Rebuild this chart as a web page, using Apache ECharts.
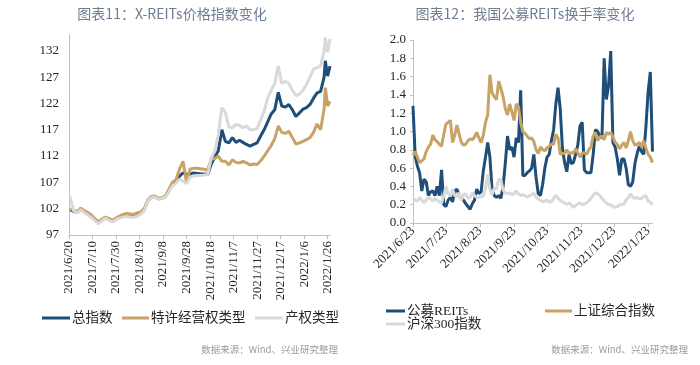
<!DOCTYPE html>
<html><head><meta charset="utf-8">
<script src="https://cdn.jsdelivr.net/npm/echarts@6/dist/echarts.min.js"></script>
<style>html,body{margin:0;padding:0;background:#fff}#c{width:700px;height:365px}</style>
</head><body><div id="c"></div>
<script>
// ---- Chart 11: X-REITs price index ----
const priceBase = '2021/6/20';
const priceTickLabels = ['2021/6/20','2021/7/10','2021/7/30','2021/8/19','2021/9/8','2021/9/28','2021/10/18','2021/11/7','2021/11/27','2021/12/17','2022/1/6','2022/1/26'];
const priceYTicks = [97,102,107,112,117,122,127,132];
const priceDates = ['2021-06-21','2021-06-24','2021-06-27','2021-06-30','2021-07-03','2021-07-06','2021-07-09','2021-07-12','2021-07-15','2021-07-18','2021-07-21','2021-07-24','2021-07-27','2021-07-30','2021-08-02','2021-08-05','2021-08-08','2021-08-11','2021-08-14','2021-08-17','2021-08-20','2021-08-23','2021-08-26','2021-08-29','2021-09-01','2021-09-04','2021-09-07','2021-09-10','2021-09-13','2021-09-16','2021-09-19','2021-09-22','2021-09-25','2021-09-28','2021-10-01','2021-10-04','2021-10-07','2021-10-10','2021-10-13','2021-10-16','2021-10-19','2021-10-22','2021-10-25','2021-10-28','2021-10-31','2021-11-03','2021-11-06','2021-11-09','2021-11-12','2021-11-15','2021-11-18','2021-11-21','2021-11-24','2021-11-27','2021-11-30','2021-12-03','2021-12-06','2021-12-09','2021-12-12','2021-12-15','2021-12-18','2021-12-21','2021-12-24','2021-12-27','2021-12-30','2022-01-02','2022-01-05','2022-01-08','2022-01-11','2022-01-14','2022-01-17','2022-01-20','2022-01-23','2022-01-24','2022-01-26','2022-01-28'];
const totalIndex = [101.8,101.5,101.3,101.9,101.4,101.0,100.5,99.9,99.3,99.9,
100.3,100.0,99.7,100.1,100.4,100.6,100.7,100.6,100.5,100.8,
101.1,101.8,103.5,104.2,104.3,103.9,104.0,104.3,105.5,106.6,
107.0,108.2,108.8,108.5,108.6,108.8,108.7,108.6,108.6,108.5,
110.5,111.8,113.0,117.0,114.8,114.5,115.5,114.6,115.0,114.6,
114.2,113.9,114.2,114.5,115.8,117.0,118.5,120.0,120.8,124.1,
121.5,121.3,121.8,120.8,119.5,120.2,120.9,121.2,121.8,123.0,
124.0,124.3,127.0,130.1,127.2,129.1];
const concessionIndex = [102.0,101.7,101.5,102.1,101.6,101.3,100.8,100.1,99.5,100.0,
100.4,100.1,99.8,100.2,100.6,100.9,101.1,101.0,100.9,101.2,
101.4,102.0,103.6,104.3,104.4,104.0,104.1,104.4,105.7,107.0,
107.5,109.5,111.0,107.0,109.5,109.7,109.7,109.6,109.5,109.3,
111.5,111.5,112.0,111.0,111.0,110.3,111.3,110.8,110.7,111.0,
110.7,110.3,110.5,110.4,111.1,112.0,113.0,114.0,115.3,117.7,
116.5,116.3,116.7,115.5,114.3,114.5,114.8,115.1,115.5,116.5,
118.1,117.0,121.0,125.0,121.5,122.4];
const propertyIndex = [104.3,101.6,101.2,101.8,101.2,100.8,100.3,99.7,99.1,99.7,
100.2,99.8,99.5,99.9,100.2,100.4,100.5,100.4,100.3,100.6,
100.9,101.6,103.4,104.1,104.2,103.8,103.9,104.2,105.2,106.3,
106.8,107.6,107.2,106.8,108.0,108.2,108.3,108.3,108.4,108.5,
111.6,113.0,116.0,121.2,120.3,117.5,117.4,118.0,117.8,117.4,
117.7,117.0,117.0,117.2,118.9,120.5,123.0,124.5,125.8,129.1,
125.8,126.2,125.8,124.5,123.5,123.8,124.5,125.6,127.0,128.5,
128.8,129.1,132.0,134.5,131.7,134.3];

// ---- Chart 12: REITs turnover ----
const turnBase = '2021/6/23';
const turnTickLabels = ['2021/6/23','2021/7/23','2021/8/23','2021/9/23','2021/10/23','2021/11/23','2021/12/23','2022/1/23'];
const turnDates = ['2021-06-23','2021-06-25','2021-06-27','2021-06-29','2021-07-01','2021-07-03','2021-07-05','2021-07-07','2021-07-09','2021-07-11',
'2021-07-13','2021-07-15','2021-07-17','2021-07-19','2021-07-21','2021-07-23','2021-07-25','2021-07-27','2021-07-29','2021-07-31',
'2021-08-02','2021-08-04','2021-08-06','2021-08-08','2021-08-10','2021-08-12','2021-08-14','2021-08-16','2021-08-18','2021-08-20',
'2021-08-22','2021-08-24','2021-08-26','2021-08-28','2021-08-30','2021-09-01','2021-09-03','2021-09-05','2021-09-07','2021-09-09',
'2021-09-11','2021-09-13','2021-09-15','2021-09-17','2021-09-19','2021-09-21','2021-09-23','2021-09-25','2021-09-27','2021-09-29',
'2021-10-01','2021-10-03','2021-10-05','2021-10-07','2021-10-09','2021-10-11','2021-10-13','2021-10-15','2021-10-17','2021-10-19',
'2021-10-21','2021-10-23','2021-10-25','2021-10-27','2021-10-29','2021-10-31','2021-11-02','2021-11-04','2021-11-06','2021-11-08',
'2021-11-10','2021-11-12','2021-11-14','2021-11-16','2021-11-18','2021-11-20','2021-11-22','2021-11-24','2021-11-26','2021-11-28',
'2021-11-30','2021-12-02','2021-12-04','2021-12-06','2021-12-08','2021-12-10','2021-12-12','2021-12-14','2021-12-16','2021-12-18',
'2021-12-20','2021-12-22','2021-12-24','2021-12-26','2021-12-28','2021-12-30','2022-01-01','2022-01-03','2022-01-05','2022-01-07',
'2022-01-09','2022-01-11','2022-01-13','2022-01-15','2022-01-17','2022-01-19','2022-01-21','2022-01-23','2022-01-25','2022-01-27'];
const reitsTurnover = [1.28,0.73,0.62,0.55,0.35,0.48,0.45,0.30,0.34,0.35,
0.30,0.40,0.30,0.58,0.20,0.18,0.25,0.28,0.23,0.35,
0.37,0.30,0.27,0.25,0.21,0.18,0.15,0.21,0.25,0.37,
0.32,0.34,0.57,0.72,0.88,0.72,0.36,0.30,0.28,0.30,
0.27,0.40,0.65,0.95,0.80,0.83,0.72,0.93,0.88,1.45,
0.52,0.52,0.55,0.57,0.60,0.75,0.50,0.32,0.30,0.42,
0.60,0.72,0.75,0.90,1.02,1.30,1.48,1.25,0.82,0.66,
0.56,0.75,0.65,0.66,0.75,0.85,1.06,1.10,0.58,0.55,
0.55,0.55,0.75,1.02,1.00,0.95,0.93,1.80,1.35,1.50,
1.88,0.88,0.83,0.70,0.52,0.70,0.70,0.60,0.42,0.40,
0.45,0.65,0.76,0.84,0.78,0.75,1.05,1.43,1.65,0.78];
const shTurnover = [0.74,0.78,0.72,0.66,0.68,0.70,0.78,0.83,0.86,0.96,
0.91,0.89,0.86,0.84,0.97,1.08,1.10,1.12,0.88,0.96,
1.07,0.97,0.88,0.85,0.86,0.90,0.92,0.91,0.94,0.99,
0.93,0.88,0.96,1.10,1.18,1.62,1.42,1.38,1.35,1.55,
1.47,1.38,1.25,1.18,1.30,1.22,1.12,1.30,1.27,1.10,
1.00,0.98,0.95,0.92,0.93,0.89,0.80,0.76,0.83,0.80,
0.79,0.82,0.84,0.86,0.86,0.97,0.93,0.75,0.76,0.76,
0.80,0.76,0.77,0.76,0.81,0.77,0.72,0.76,0.77,0.75,
0.80,0.83,0.95,0.99,0.90,0.94,0.95,0.91,0.99,0.97,
0.99,0.94,0.88,0.86,0.81,0.85,0.88,0.82,0.90,1.00,
0.90,0.85,0.86,0.88,0.83,0.90,0.82,0.75,0.72,0.66];
const hs300Turnover = [0.27,0.25,0.24,0.28,0.25,0.22,0.25,0.28,0.26,0.24,
0.27,0.25,0.23,0.22,0.30,0.40,0.32,0.30,0.37,0.30,
0.29,0.33,0.25,0.31,0.32,0.27,0.28,0.33,0.30,0.28,
0.28,0.29,0.29,0.38,0.53,0.37,0.31,0.38,0.37,0.48,
0.47,0.36,0.33,0.32,0.33,0.31,0.32,0.35,0.32,0.30,
0.31,0.30,0.28,0.30,0.31,0.33,0.28,0.26,0.25,0.23,
0.24,0.25,0.23,0.23,0.27,0.30,0.27,0.25,0.23,0.22,
0.20,0.22,0.20,0.17,0.19,0.21,0.22,0.20,0.21,0.22,
0.24,0.27,0.30,0.33,0.32,0.30,0.27,0.24,0.22,0.20,
0.20,0.18,0.17,0.18,0.20,0.20,0.21,0.25,0.28,0.32,
0.28,0.27,0.28,0.26,0.27,0.29,0.30,0.24,0.23,0.20];

// ---- helpers ----
function utc(s){const p=s.split(/[-\/]/).map(Number);return Date.UTC(p[0],p[1]-1,p[2]);}
function dayOf(s,base){return Math.round((utc(s)-utc(base))/864e5);}
function fmt(v,base){const d=new Date(utc(base)+v*864e5);return d.getUTCFullYear()+'/'+(d.getUTCMonth()+1)+'/'+d.getUTCDate();}
function pairs(dates,vals,base){return dates.map((d,i)=>[dayOf(d,base),vals[i]]);}

const priceTickVals = priceTickLabels.map(s=>dayOf(s,priceBase));
const turnTickVals = turnTickLabels.map(s=>dayOf(s,turnBase));
const priceMax = dayOf(priceDates[priceDates.length-1],priceBase);
const turnMax = dayOf(turnDates[turnDates.length-1],turnBase);

const BLUE='#1f4e79', GOLD='#c9a265', GRAY='#d9d9d9';
const SERIF="'Liberation Serif','Noto Sans CJK SC',serif";
const axisGray='#bfbfbf';
const lblStyle={fontFamily:SERIF,fontSize:13,color:'#262626'};

function legend(name,left,top,w){
  return {data:[name],left:left,top:top,orient:'horizontal',icon:'rect',itemWidth:w,itemHeight:3,itemGap:0,
    selectedMode:false,padding:0,textStyle:{fontFamily:SERIF,fontSize:13.5,color:'#262626',lineHeight:14,padding:[0,0,0,-3]}};
}

const chart = echarts.init(document.getElementById('c'), null, {renderer:'canvas'});
chart.setOption({
  animation:false,
  backgroundColor:'#fff',
  graphic:[
    {type:'text',x:172,y:14,style:{text:'图表11：X-REITs价格指数变化',fontFamily:"'Noto Sans CJK SC',sans-serif",fontSize:14,fill:'#6e7d91',align:'center',verticalAlign:'middle'}},
    {type:'text',x:525,y:14,style:{text:'图表12：我国公募REITs换手率变化',fontFamily:"'Noto Sans CJK SC',sans-serif",fontSize:14,fill:'#6e7d91',align:'center',verticalAlign:'middle'}},
    {type:'text',x:338,y:349,style:{text:'数据来源：Wind、兴业研究整理',fontFamily:"'Noto Sans CJK SC',sans-serif",fontSize:9.5,fill:'#9a9a9a',align:'right',verticalAlign:'middle'}},
    {type:'text',x:688,y:349,style:{text:'数据来源：Wind、兴业研究整理',fontFamily:"'Noto Sans CJK SC',sans-serif",fontSize:9.5,fill:'#9a9a9a',align:'right',verticalAlign:'middle'}}
  ],
  legend:[
    legend('总指数',42,311,28),
    legend('特许经营权类型',122,311,27),
    legend('产权类型',255,311,28),
    legend('公募REITs',386,304,19),
    legend('沪深300指数',386,317,19),
    legend('上证综合指数',545,304,27)
  ],
  grid:[
    {left:69,top:35,width:261,height:200},
    {left:413,top:40,width:239.5,height:183}
  ],
  xAxis:[
    {type:'value',gridIndex:0,min:0,max:priceMax,
      axisLine:{show:true,lineStyle:{color:axisGray,width:1}},
      axisTick:{show:true,customValues:priceTickVals,length:4,lineStyle:{color:axisGray}},
      axisLabel:Object.assign({customValues:priceTickVals,rotate:90,margin:6,formatter:v=>fmt(v,priceBase)},lblStyle),
      splitLine:{show:false}},
    {type:'value',gridIndex:1,min:0,max:turnMax,
      axisLine:{show:true,lineStyle:{color:axisGray,width:1}},
      axisTick:{show:true,customValues:turnTickVals,length:4,lineStyle:{color:axisGray}},
      axisLabel:Object.assign({customValues:turnTickVals,rotate:45,margin:6,formatter:v=>fmt(v,turnBase)},lblStyle),
      splitLine:{show:false}}
  ],
  yAxis:[
    {type:'value',gridIndex:0,min:97,max:135,
      axisLine:{show:true,lineStyle:{color:axisGray,width:1}},
      axisTick:{show:false},
      axisLabel:Object.assign({customValues:priceYTicks,margin:10},lblStyle),
      splitLine:{show:false}},
    {type:'value',gridIndex:1,min:0,max:2,interval:0.2,
      axisLine:{show:true,lineStyle:{color:axisGray,width:1}},
      axisTick:{show:true,length:3,lineStyle:{color:axisGray}},
      axisLabel:Object.assign({margin:7,formatter:v=>v.toFixed(1)},lblStyle),
      splitLine:{show:false}}
  ],
  series:[
    {name:'总指数',type:'line',xAxisIndex:0,yAxisIndex:0,showSymbol:false,data:pairs(priceDates,totalIndex,priceBase),lineStyle:{width:3,color:BLUE},itemStyle:{color:BLUE}},
    {name:'特许经营权类型',type:'line',xAxisIndex:0,yAxisIndex:0,showSymbol:false,data:pairs(priceDates,concessionIndex,priceBase),lineStyle:{width:3,color:GOLD},itemStyle:{color:GOLD}},
    {name:'产权类型',type:'line',xAxisIndex:0,yAxisIndex:0,showSymbol:false,data:pairs(priceDates,propertyIndex,priceBase),lineStyle:{width:3,color:GRAY},itemStyle:{color:GRAY}},
    {name:'公募REITs',type:'line',xAxisIndex:1,yAxisIndex:1,showSymbol:false,data:pairs(turnDates,reitsTurnover,turnBase),lineStyle:{width:3,color:BLUE},itemStyle:{color:BLUE}},
    {name:'上证综合指数',type:'line',xAxisIndex:1,yAxisIndex:1,showSymbol:false,data:pairs(turnDates,shTurnover,turnBase),lineStyle:{width:3,color:GOLD},itemStyle:{color:GOLD}},
    {name:'沪深300指数',type:'line',xAxisIndex:1,yAxisIndex:1,showSymbol:false,data:pairs(turnDates,hs300Turnover,turnBase),lineStyle:{width:3,color:GRAY},itemStyle:{color:GRAY}}
  ]
});
</script></body></html>
